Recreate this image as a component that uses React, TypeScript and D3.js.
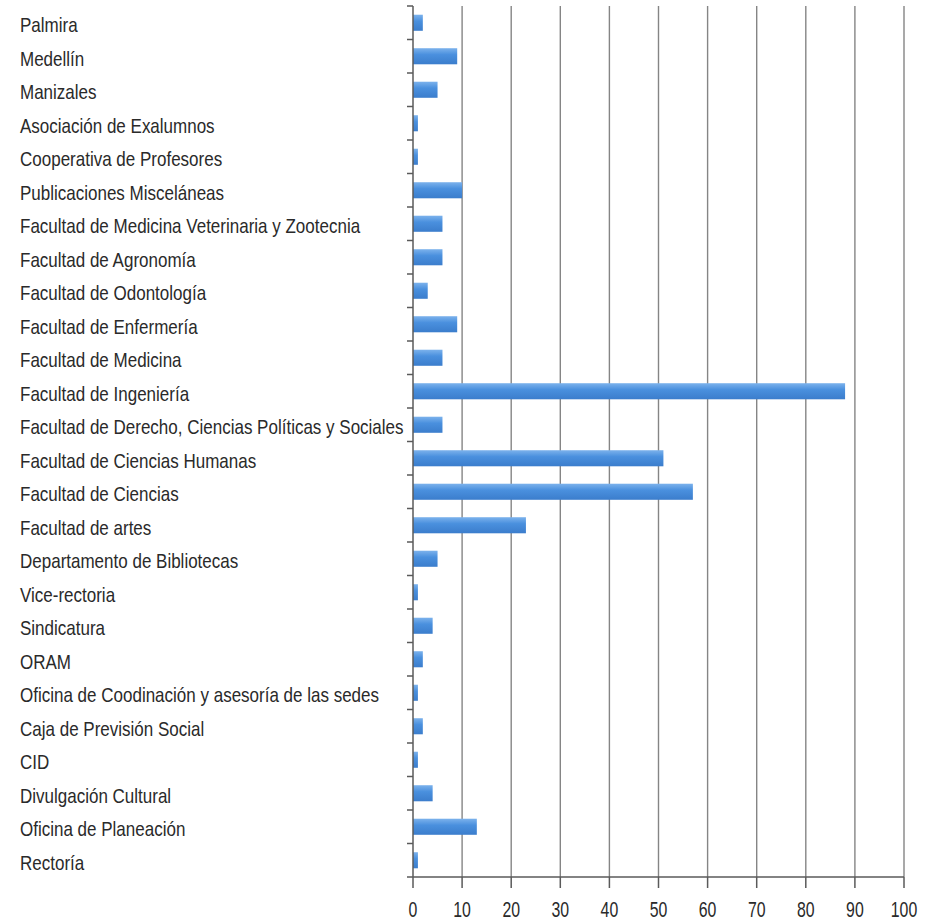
import React from "react";
import * as d3 from "d3";

const categories: string[] = [
  "Palmira",
  "Medellín",
  "Manizales",
  "Asociación de Exalumnos",
  "Cooperativa de Profesores",
  "Publicaciones Misceláneas",
  "Facultad de Medicina Veterinaria y Zootecnia",
  "Facultad de Agronomía",
  "Facultad de Odontología",
  "Facultad de Enfermería",
  "Facultad de Medicina",
  "Facultad de Ingeniería",
  "Facultad de Derecho, Ciencias Políticas y Sociales",
  "Facultad de Ciencias Humanas",
  "Facultad de Ciencias",
  "Facultad de artes",
  "Departamento de Bibliotecas",
  "Vice-rectoria",
  "Sindicatura",
  "ORAM",
  "Oficina de Coodinación y asesoría de las sedes",
  "Caja de Previsión Social",
  "CID",
  "Divulgación Cultural",
  "Oficina de Planeación",
  "Rectoría",
];

const values: number[] = [
  2, 9, 5, 1, 1, 10, 6, 6, 3, 9, 6, 88, 6, 51, 57, 23, 5, 1, 4, 2, 1, 2, 1, 4, 13, 1,
];

const xTicks: number[] = [0, 10, 20, 30, 40, 50, 60, 70, 80, 90, 100];

const W = 934;
const H = 921;
const left = 413;
const right = 904;
const top = 6;
const bottom = 877;
const labelX = 20;
const font = "'Liberation Sans', Arial, sans-serif";
const labelSize = 21;
const labelScale = 0.81;
const tickSize = 22;
const tickScale = 0.72;

export default function App() {
  const x = d3.scaleLinear().domain([0, 100]).range([left, right]);
  const y = d3.scaleBand<string>().domain(categories).range([top, bottom]).padding(0);
  const step = y.step();
  const barH = step * 0.48;

  return (
    <svg
      width={W}
      height={H}
      style={{ position: "absolute", left: 0, top: 0, background: "#fff" }}
    >
      <defs>
        <linearGradient id="barGrad" x1="0" y1="0" x2="0" y2="1">
          <stop offset="0%" stopColor="#7cb2ec" />
          <stop offset="40%" stopColor="#4a90de" />
          <stop offset="100%" stopColor="#3b7dcc" />
        </linearGradient>
      </defs>

      {/* vertical gridlines */}
      {xTicks
        .filter((t) => t > 0)
        .map((t) => (
          <line
            key={"g" + t}
            x1={x(t)}
            x2={x(t)}
            y1={top}
            y2={bottom}
            stroke="#858585"
            strokeWidth={1.4}
          />
        ))}

      {/* bars */}
      {categories.map((c, i) => (
        <rect
          key={"b" + c}
          x={x(0)}
          y={(y(c) as number) + (step - barH) / 2}
          width={x(values[i]) - x(0)}
          height={barH}
          fill="url(#barGrad)"
        />
      ))}

      {/* left axis */}
      <line x1={left} x2={left} y1={top} y2={bottom} stroke="#5a5a5a" strokeWidth={1.5} />
      {categories.map((c) => (
        <line
          key={"t" + c}
          x1={left - 6}
          x2={left}
          y1={y(c) as number}
          y2={y(c) as number}
          stroke="#5a5a5a"
          strokeWidth={1.5}
        />
      ))}

      {/* bottom axis */}
      <line x1={left - 6} x2={right} y1={bottom} y2={bottom} stroke="#5a5a5a" strokeWidth={1.5} />
      {xTicks.map((t) => (
        <g key={"x" + t}>
          <line x1={x(t)} x2={x(t)} y1={bottom} y2={bottom + 11} stroke="#5a5a5a" strokeWidth={1.5} />
          <g transform={`translate(${x(t)},917) scale(${tickScale},1)`}>
            <text x={0} y={0} textAnchor="middle" fontFamily={font} fontSize={tickSize} fill="#2a2a2a">
              {t}
            </text>
          </g>
        </g>
      ))}

      {/* category labels */}
      {categories.map((c) => (
        <g
          key={"l" + c}
          transform={`translate(${labelX},${(y(c) as number) + step / 2 + 9.5}) scale(${labelScale},1)`}
        >
          <text x={0} y={0} fontFamily={font} fontSize={labelSize} fill="#2a2a2a">
            {c}
          </text>
        </g>
      ))}
    </svg>
  );
}
